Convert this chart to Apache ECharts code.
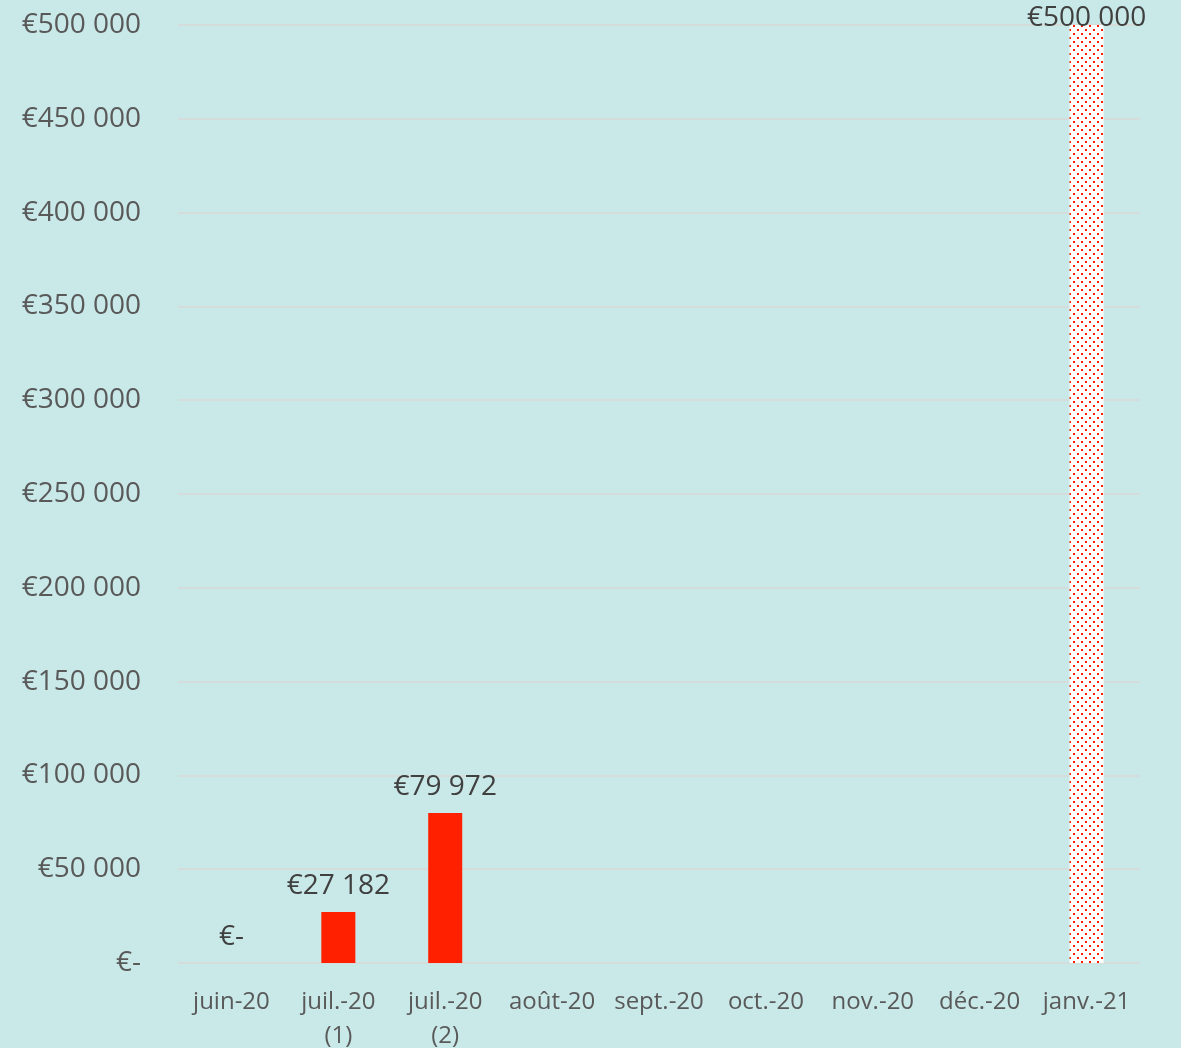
<!DOCTYPE html>
<html>
<head>
<meta charset="utf-8">
<script src="https://cdn.jsdelivr.net/npm/echarts@6/dist/echarts.min.js"></script>
<style>
  html, body { margin: 0; padding: 0; background: #C9E8E8; }
  #chart { width: 1181px; height: 1048px; }
</style>
</head>
<body>
<div id="chart"></div>
<script>
const categories = ['juin-20', 'juil.-20\n(1)', 'juil.-20\n(2)', 'août-20', 'sept.-20', 'oct.-20', 'nov.-20', 'déc.-20', 'janv.-21']
const amounts = [0, 27182, 79972, null, null, null, null, null, 500000]
const forecastIndex = 8

const fmtEuro = (v) => {
  if (v === 0) return '€-'
  return '€' + String(Math.round(v)).replace(/\B(?=(\d{3})+(?!\d))/g, ' ')
}

// dotted fill for the last bar
const tile = document.createElement('canvas')
tile.width = 8
tile.height = 8
const ctx = tile.getContext('2d')
ctx.fillStyle = '#ffffff'
ctx.fillRect(0, 0, 8, 8)
ctx.fillStyle = '#ff1a00'
ctx.fillRect(1, 1, 2, 2)
ctx.fillRect(5, 5, 2, 2)

const barData = amounts.map((v, i) => {
  if (i === forecastIndex) {
    return {
      value: v,
      itemStyle: { color: { image: tile, repeat: 'repeat' } },
      label: { distance: -7 }
    }
  }
  return v
})

const chart = echarts.init(document.getElementById('chart'))
chart.setOption({
  backgroundColor: '#C9E8E8',
  textStyle: { fontFamily: 'Open Sans' },
  grid: { left: 178, right: 41, top: 25, bottom: 85, outerBoundsMode: 'none', containLabel: false },
  xAxis: {
    type: 'category',
    data: categories,
    axisLine: { show: false },
    axisTick: { show: false },
    axisLabel: {
      color: '#595959',
      fontSize: 24,
      lineHeight: 34,
      margin: 22,
      interval: 0
    }
  },
  yAxis: {
    type: 'value',
    min: 0,
    max: 500000,
    interval: 50000,
    axisLine: { show: false },
    axisTick: { show: false },
    splitLine: { lineStyle: { color: '#D9D9D9', width: 1.5 } },
    axisLabel: {
      color: '#595959',
      fontSize: 28,
      margin: 37,
      formatter: fmtEuro
    }
  },
  series: [
    {
      type: 'bar',
      data: barData,
      barWidth: 34,
      itemStyle: { color: '#FF2000' },
      label: {
        show: true,
        position: 'top',
        distance: 12,
        color: '#404040',
        fontSize: 28,
        formatter: (p) => fmtEuro(p.value)
      }
    }
  ]
})
</script>
</body>
</html>
